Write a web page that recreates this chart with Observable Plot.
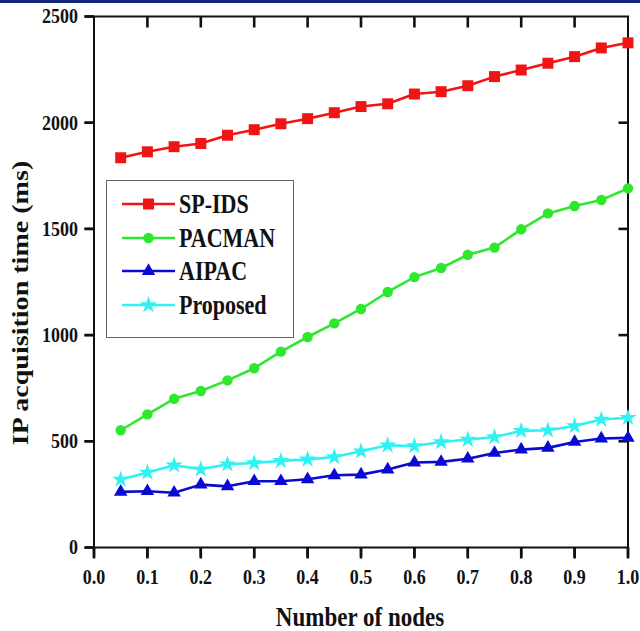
<!DOCTYPE html>
<html>
<head>
<meta charset="utf-8">
<script src="https://cdn.jsdelivr.net/npm/d3@7"></script>
<script src="https://cdn.jsdelivr.net/npm/@observablehq/plot@0.6"></script>
<style>
  html, body { margin: 0; padding: 0; background: #fff; }
  #wrap { position: relative; width: 640px; height: 631px; overflow: hidden; background: #fff; }
  #topbar { position: absolute; left: 0; top: 0; width: 640px; height: 3px; background: #13267a; }
  .title { position: absolute; font-family: "Liberation Serif", "Times New Roman", serif; font-weight: bold; color: #111; white-space: nowrap; }
  #legend { position: absolute; left: 106px; top: 180px; width: 188px; height: 158px; box-sizing: border-box; border: 1.3px solid #666; background: #fff; }
  .row { position: absolute; left: 0; height: 34px; display: flex; align-items: center; }
  .row svg { display: block; margin-left: 15px; }
  .row span { font-family: "Liberation Serif", "Times New Roman", serif; font-weight: bold; font-size: 22px; color: #111; margin-left: 4px; display: inline-block; transform: scaleY(1.25); }
</style>
</head>
<body>
<div id="wrap">
  <div id="chart"></div>
  <div id="topbar"></div>
  <div class="title" id="ytitle">IP acquisition time (ms)</div>
  <div class="title" id="xtitle">Number of nodes</div>
  <div id="legend"></div>
</div>
<script>
// ---- data ----
const nodes = [0.05, 0.10, 0.15, 0.20, 0.25, 0.30, 0.35, 0.40, 0.45, 0.50,
               0.55, 0.60, 0.65, 0.70, 0.75, 0.80, 0.85, 0.90, 0.95, 1.00];
const spIds    = [1835, 1863, 1887, 1902, 1941, 1967, 1995, 2019, 2047, 2076,
                  2089, 2135, 2146, 2174, 2217, 2248, 2280, 2311, 2352, 2376];
const pacman   = [552, 627, 700, 737, 787, 844, 922, 991, 1055, 1123,
                  1203, 1273, 1316, 1378, 1412, 1498, 1573, 1608, 1636, 1691];
const aipac    = [262, 265, 258, 296, 288, 312, 312, 321, 340, 343,
                  367, 400, 403, 418, 445, 461, 469, 497, 513, 516];
const proposed = [320, 353, 387, 368, 392, 398, 408, 415, 426, 453,
                  481, 478, 497, 508, 520, 549, 552, 572, 603, 611];
const seriesNames = ["SP-IDS", "PACMAN", "AIPAC", "Proposed"];
const seriesColors = ["#f01414", "#2ee82e", "#0a0ad2", "#30f2f2"];
const seriesSymbols = ["square", "circle", "triangle", "star"];
const xTicks = [0.0, 0.1, 0.2, 0.3, 0.4, 0.5, 0.6, 0.7, 0.8, 0.9, 1.0];
const yTicks = [0, 500, 1000, 1500, 2000, 2500];

// ---- table ----
const allValues = [spIds, pacman, aipac, proposed];
const rows = [];
seriesNames.forEach((name, s) => {
  nodes.forEach((n, i) => rows.push({series: name, x: n, y: allValues[s][i]}));
});
const markerR = {"SP-IDS": 6.2, "PACMAN": 5.2, "AIPAC": 5.0, "Proposed": 5.4};

const W = 640, H = 631, ML = 93.5, MR = 12.5, MT = 16, MB = 84;
const frameW = W - ML - MR, frameH = H - MT - MB;
const X0 = 0, X1 = 1, Y0 = 0, Y1 = 2500;
// tick lengths converted from pixels to data units
const dyTick = 11 * (Y1 - Y0) / frameH;
const dxTick = 9.5 * (X1 - X0) / frameW;
const tickPts = [];
let tid = 0;
function seg(xa, ya, xb, yb) { tid++; tickPts.push({id: tid, x: xa, y: ya}, {id: tid, x: xb, y: yb}); }
xTicks.forEach(v => seg(v, Y0, v, Y0 - dyTick));                 // bottom, outward
xTicks.slice(1, -1).forEach(v => seg(v, Y1, v, Y1 - dyTick));    // top, inward
yTicks.forEach(v => seg(X0, v, X0 - dxTick, v));                 // left, outward
yTicks.slice(1, -1).forEach(v => seg(X1, v, X1 - dxTick, v));    // right, inward

const marks = [
  Plot.axisX({anchor: "bottom", ticks: xTicks, tickFormat: d3.format(".1f"), tickSize: 10, tickPadding: 11, label: null, fontSize: 18, strokeWidth: 2.4}),
  Plot.axisY({anchor: "left", ticks: yTicks, tickFormat: d3.format("d"), tickSize: 9, tickPadding: 7, label: null, fontSize: 18, strokeWidth: 2.4}),
  Plot.line(tickPts, {x: "x", y: "y", z: "id", stroke: "#111", strokeWidth: 2.6, strokeLinecap: "butt"}),
  Plot.frame({stroke: "#111", strokeWidth: 2})
];
seriesNames.forEach((name, s) => {
  const d = rows.filter(r => r.series === name);
  marks.push(Plot.line(d, {x: "x", y: "y", stroke: seriesColors[s], strokeWidth: 2.6}));
  marks.push(Plot.dot(d, {x: "x", y: "y", fill: seriesColors[s], stroke: "none", symbol: seriesSymbols[s], r: markerR[name]}));
});

const chart = Plot.plot({
  width: W,
  height: H,
  marginLeft: ML,
  marginRight: MR,
  marginTop: MT,
  marginBottom: MB,
  style: {fontFamily: "Liberation Serif, Times New Roman, serif", fontWeight: "bold", color: "#111", background: "white", overflow: "visible"},
  x: {domain: [X0, X1]},
  y: {domain: [Y0, Y1]},
  marks
});
document.getElementById("chart").appendChild(chart);

// vertically stretch tick labels like the source figure
const S = 1.2;
chart.querySelectorAll("text").forEach(t => {
  const tr = t.getAttribute("transform");
  if (tr) {
    t.setAttribute("transform", tr + ` scale(1,${S})`);
  } else {
    const x = t.getAttribute("x"), y = t.getAttribute("y");
    if (x !== null && y !== null && !isNaN(+x) && !isNaN(+y)) {
      t.setAttribute("transform", `translate(${x},${y}) scale(1,${S})`);
      t.setAttribute("x", 0); t.setAttribute("y", 0);
    }
  }
});

// axis titles
const yt = document.getElementById("ytitle");
yt.style.fontSize = "23px";
yt.style.left = "21px"; yt.style.top = "303px";
yt.style.transform = "translate(-50%,-50%) rotate(-90deg) scaleX(1.22)";
const xt = document.getElementById("xtitle");
xt.style.fontSize = "23px";
xt.style.left = "360px"; xt.style.top = "617px";
xt.style.transform = "translate(-50%,-50%) scaleY(1.22)";

// legend
const legend = document.getElementById("legend");
const symbolPath = {square: d3.symbolSquare, circle: d3.symbolCircle, triangle: d3.symbolTriangle, star: d3.symbolStar};
seriesNames.forEach((name, s) => {
  const row = document.createElement("div");
  row.className = "row";
  row.style.top = (6 + s * 33.5) + "px";
  const r = markerR[name];
  const p = d3.symbol(symbolPath[seriesSymbols[s]], Math.PI * r * r)();
  row.innerHTML = `<svg width="53" height="20"><line x1="0" x2="53" y1="10" y2="10" stroke="${seriesColors[s]}" stroke-width="2.6"/><path d="${p}" transform="translate(26.5,10)" fill="${seriesColors[s]}"/></svg><span>${name}</span>`;
  legend.appendChild(row);
});
</script>
</body>
</html>
